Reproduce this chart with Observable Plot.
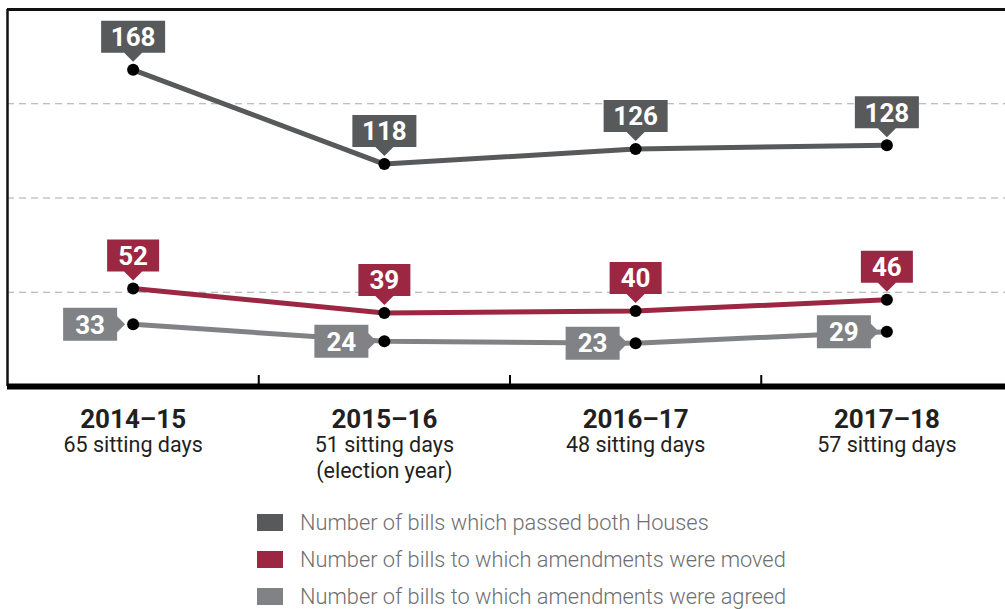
<!DOCTYPE html>
<html><head><meta charset="utf-8">
<script src="https://cdn.jsdelivr.net/npm/d3@7"></script>
<script src="https://cdn.jsdelivr.net/npm/@observablehq/plot@0.6"></script>
<style>
body{margin:0;background:#fff;overflow:hidden;width:1005px;height:609px;position:relative;}
#chart{position:absolute;left:0;top:0;}
#legend{position:absolute;left:0;top:0;font-family:Roboto,sans-serif;}
.row{position:absolute;left:257px;display:flex;align-items:center;height:17px;}
.sw{width:26px;height:17px;margin-right:17px;flex:none;}
.lab{font-size:21.8px;font-weight:300;color:#6d6e71;white-space:nowrap;}
</style></head><body>
<div id="chart"></div><div id="legend"></div>
<script>
const periods = ["2014–15", "2015–16", "2016–17", "2017–18"];
const sittingDays = ["65 sitting days", "51 sitting days", "48 sitting days", "57 sitting days"];
const periodNotes = ["", "(election year)", "", ""];
const passedBoth = [168, 118, 126, 128];
const amendmentsMoved = [52, 39, 40, 46];
const amendmentsAgreed = [33, 24, 23, 29];
const seriesNames = [
  "Number of bills which passed both Houses",
  "Number of bills to which amendments were moved",
  "Number of bills to which amendments were agreed"
];
const seriesColors = ["#58595b", "#9b2743", "#808285"];
const labelPlacement = ["up", "up", "left"];
const gridValues = [50, 100, 150];
const yDomain = [0, 200];

const seriesValues = [passedBoth, amendmentsMoved, amendmentsAgreed];
const rows = [];
seriesValues.forEach((vals, s) => vals.forEach((v, i) => rows.push({
  series: seriesNames[s], pos: i + 0.5, value: v, label: String(v),
  place: labelPlacement[s], wide: String(v).length > 2
})));

// callout shapes (label boxes with pointer)
function callout(w, dir) {
  return {draw(ctx) {
    if (dir === "up") {
      ctx.moveTo(-w / 2, -49); ctx.lineTo(w / 2, -49); ctx.lineTo(w / 2, -17);
      ctx.lineTo(9, -17); ctx.lineTo(0, -8); ctx.lineTo(-9, -17);
      ctx.lineTo(-w / 2, -17); ctx.closePath();
    } else {
      ctx.moveTo(-16 - w, -16.5); ctx.lineTo(-16, -16.5); ctx.lineTo(-16, -8);
      ctx.lineTo(-8, 0); ctx.lineTo(-16, 8); ctx.lineTo(-16, 16.5);
      ctx.lineTo(-16 - w, 16.5); ctx.closePath();
    }
  }};
}
const W3 = 64, W2 = 52;

const color = {domain: seriesNames, range: seriesColors};

const chart = Plot.plot({
  width: 1005,
  height: 490,
  marginTop: 9,
  marginBottom: 104,
  marginLeft: 7,
  marginRight: 0,
  style: {fontFamily: "Roboto, sans-serif", background: "transparent", overflow: "visible"},
  x: {domain: [0, periods.length], range: [7, 1012], axis: null},
  y: {domain: yDomain, axis: null},
  color,
  marks: [
    Plot.ruleY(gridValues, {stroke: "#a7a9ac", strokeWidth: 1, strokeDasharray: "7,5"}),
    Plot.ruleY([yDomain[1]], {stroke: "#111", strokeWidth: 3}),
    Plot.ruleX([0], {stroke: "#111", strokeWidth: 2.5}),
    Plot.line(rows, {x: "pos", y: "value", z: "series", stroke: "series", strokeWidth: 5, strokeLinejoin: "round"}),
    Plot.ruleY([0], {stroke: "#000", strokeWidth: 6}),
    Plot.ruleX(d3.range(1, periods.length), {stroke: "#000", strokeWidth: 2, insetTop: 366}),
    Plot.dot(rows, {filter: d => d.place === "up" && d.wide, x: "pos", y: "value", fill: "series", symbol: callout(W3, "up")}),
    Plot.dot(rows, {filter: d => d.place === "up" && !d.wide, x: "pos", y: "value", fill: "series", symbol: callout(W2, "up")}),
    Plot.dot(rows, {filter: d => d.place === "left", x: "pos", y: "value", fill: "series", symbol: callout(W2 + 2, "left")}),
    Plot.text(rows, {filter: d => d.place === "up", x: "pos", y: "value", text: "label", dy: -32, fill: "white", fontSize: 26, fontWeight: "bold"}),
    Plot.text(rows, {filter: d => d.place === "left", x: "pos", y: "value", text: "label", dx: -43, dy: 1, fill: "white", fontSize: 26, fontWeight: "bold"}),
    Plot.dot(rows, {x: "pos", y: "value", r: 6, fill: "#000"}),
    Plot.text(periods, {x: (d, i) => i + 0.5, y: () => 0, text: d => d, lineAnchor: "bottom", dy: 41, fontSize: 26, fontWeight: "bold", fill: "#231f20"}),
    Plot.text(sittingDays, {x: (d, i) => i + 0.5, y: () => 0, text: d => d, lineAnchor: "bottom", dy: 65, fontSize: 21.5, fill: "#231f20"}),
    Plot.text(periodNotes, {x: (d, i) => i + 0.5, y: () => 0, text: d => d, lineAnchor: "bottom", dy: 91, fontSize: 21.5, fill: "#231f20"})
  ]
});
document.getElementById("chart").appendChild(chart);

const legend = document.getElementById("legend");
seriesNames.forEach((name, i) => {
  const row = document.createElement("div");
  row.className = "row";
  row.style.top = (514 + i * 37) + "px";
  const sw = document.createElement("div");
  sw.className = "sw";
  sw.style.background = seriesColors[i];
  const lab = document.createElement("span");
  lab.className = "lab";
  lab.textContent = name;
  row.appendChild(sw); row.appendChild(lab);
  legend.appendChild(row);
});
</script>
</body></html>
